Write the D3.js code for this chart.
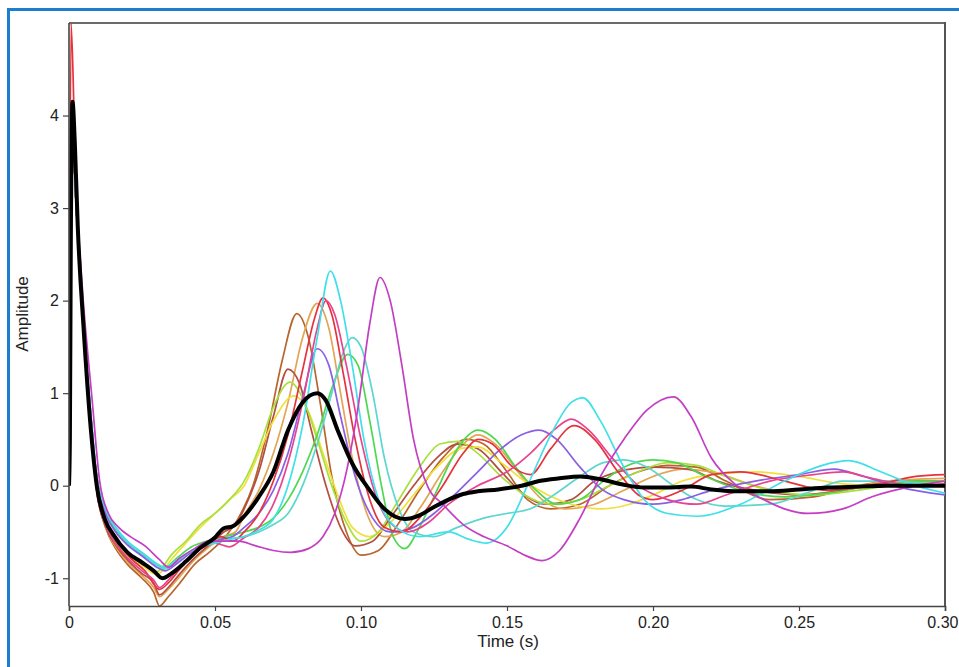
<!DOCTYPE html>
<html>
<head>
<meta charset="utf-8">
<script src="https://cdn.jsdelivr.net/npm/d3@7/dist/d3.min.js"></script>
<style>
  html, body { margin: 0; padding: 0; background: #fff; }
  svg { display: block; }
  text { font-family: "Liberation Sans", Arial, Helvetica, sans-serif; fill: #222; }
</style>
</head>
<body>
<svg id="chart" width="959" height="667"></svg>
<script>
// ---- tick labels / axis ----
const xTicks = [0, 0.05, 0.10, 0.15, 0.20, 0.25, 0.30];
const xTickLabels = ["0", "0.05", "0.10", "0.15", "0.20", "0.25", "0.30"];
const yTicks = [-1, 0, 1, 2, 3, 4];
const yTickLabels = ["-1", "0", "1", "2", "3", "4"];
const xTitle = "Time (s)";
const yTitle = "Amplitude";

// ---- series: [time (s), amplitude] ----
const brown = [[0,0],[0.001,3.9],[0.0025,3.0],[0.0045,1.9],[0.007,0.85],[0.0095,-0.05],[0.0125,-0.45],[0.016,-0.68],[0.02,-0.85],[0.025,-1.0],[0.029,-1.15],[0.031,-1.3],[0.034,-1.2],[0.038,-1.05],[0.043,-0.85],[0.048,-0.72],[0.053,-0.57],[0.058,-0.35],[0.063,0.0],[0.068,0.6],[0.073,1.35],[0.078,1.86],[0.082,1.6],[0.086,0.9],[0.09,0.1],[0.095,-0.5],[0.1,-0.75],[0.106,-0.7],[0.113,-0.4],[0.12,-0.05],[0.128,0.3],[0.136,0.5],[0.142,0.45],[0.15,0.15],[0.157,-0.15],[0.165,-0.25],[0.175,-0.2],[0.185,0.0],[0.195,0.15],[0.205,0.22],[0.215,0.2],[0.225,0.05],[0.24,-0.15],[0.255,-0.12],[0.27,0.0],[0.285,0.05],[0.3,0.05]];
const orange = [[0,0],[0.001,3.9],[0.0025,3.0],[0.0045,1.9],[0.007,0.85],[0.0095,-0.05],[0.0125,-0.45],[0.016,-0.66],[0.02,-0.82],[0.025,-0.97],[0.029,-1.1],[0.031,-1.2],[0.034,-1.12],[0.038,-0.98],[0.043,-0.8],[0.048,-0.66],[0.053,-0.55],[0.057,-0.5],[0.06,-0.32],[0.065,-0.05],[0.07,0.35],[0.075,0.9],[0.08,1.6],[0.085,1.97],[0.089,1.7],[0.093,1.0],[0.097,0.3],[0.102,-0.3],[0.108,-0.55],[0.114,-0.5],[0.12,-0.25],[0.128,0.15],[0.135,0.45],[0.14,0.55],[0.146,0.45],[0.155,0.1],[0.162,-0.15],[0.17,-0.25],[0.18,-0.2],[0.19,-0.05],[0.2,0.1],[0.21,0.18],[0.22,0.15],[0.235,0.0],[0.25,-0.1],[0.265,-0.05],[0.28,0.05],[0.3,0.08]];
const red = [[0,0],[0.0007,5.0],[0.002,3.7],[0.0035,2.5],[0.0055,1.5],[0.008,0.5],[0.0105,-0.1],[0.0135,-0.45],[0.017,-0.62],[0.021,-0.78],[0.026,-0.92],[0.031,-1.12],[0.034,-1.05],[0.038,-0.9],[0.043,-0.72],[0.048,-0.62],[0.052,-0.55],[0.056,-0.6],[0.06,-0.5],[0.065,-0.3],[0.07,0.05],[0.075,0.55],[0.08,1.25],[0.084,1.8],[0.087,2.03],[0.09,1.85],[0.094,1.2],[0.098,0.5],[0.103,-0.15],[0.108,-0.45],[0.114,-0.5],[0.12,-0.35],[0.128,0.0],[0.135,0.35],[0.14,0.5],[0.145,0.45],[0.152,0.2],[0.158,0.12],[0.165,0.4],[0.173,0.65],[0.18,0.5],[0.188,0.15],[0.195,-0.1],[0.2,-0.15],[0.21,-0.05],[0.22,0.12],[0.23,0.15],[0.245,0.05],[0.26,-0.05],[0.275,0.0],[0.29,0.1],[0.3,0.12]];
const pink = [[0,0],[0.001,3.9],[0.0025,3.0],[0.0045,1.9],[0.007,0.85],[0.0095,-0.05],[0.0125,-0.42],[0.016,-0.62],[0.02,-0.78],[0.025,-0.92],[0.029,-1.02],[0.031,-1.1],[0.034,-1.02],[0.038,-0.88],[0.043,-0.72],[0.047,-0.65],[0.05,-0.62],[0.055,-0.66],[0.06,-0.56],[0.065,-0.45],[0.07,-0.2],[0.075,0.25],[0.08,0.9],[0.085,1.7],[0.088,2.0],[0.091,1.85],[0.095,1.3],[0.1,0.5],[0.105,-0.1],[0.11,-0.4],[0.116,-0.5],[0.123,-0.4],[0.13,-0.2],[0.14,0.0],[0.15,0.15],[0.158,0.35],[0.166,0.6],[0.172,0.72],[0.178,0.6],[0.186,0.3],[0.195,0.0],[0.205,-0.15],[0.215,-0.2],[0.225,-0.1],[0.24,0.05],[0.255,0.12],[0.265,0.15],[0.275,0.08],[0.29,0.0],[0.3,0.02]];
const cyan = [[0,0],[0.001,3.9],[0.0025,3.0],[0.0045,1.95],[0.007,0.95],[0.0095,0.1],[0.0125,-0.25],[0.016,-0.45],[0.02,-0.6],[0.025,-0.72],[0.03,-0.84],[0.033,-0.88],[0.037,-0.8],[0.04,-0.74],[0.045,-0.66],[0.05,-0.62],[0.055,-0.58],[0.06,-0.55],[0.065,-0.48],[0.07,-0.36],[0.075,0.0],[0.08,0.65],[0.085,1.6],[0.0895,2.32],[0.093,2.0],[0.097,1.3],[0.101,0.5],[0.106,-0.15],[0.112,-0.45],[0.12,-0.55],[0.13,-0.5],[0.137,-0.58],[0.143,-0.62],[0.15,-0.45],[0.157,0.0],[0.165,0.55],[0.172,0.9],[0.176,0.95],[0.182,0.7],[0.19,0.2],[0.197,-0.15],[0.205,-0.3],[0.215,-0.33],[0.23,-0.2],[0.245,0.05],[0.258,0.22],[0.267,0.27],[0.278,0.15],[0.29,0.0],[0.3,-0.08]];
const magenta = [[0,0],[0.001,3.8],[0.0025,3.05],[0.005,1.95],[0.008,0.9],[0.0105,0.05],[0.0135,-0.3],[0.017,-0.45],[0.021,-0.55],[0.026,-0.65],[0.031,-0.8],[0.034,-0.88],[0.038,-0.78],[0.043,-0.68],[0.048,-0.6],[0.053,-0.6],[0.058,-0.6],[0.064,-0.65],[0.07,-0.7],[0.076,-0.72],[0.082,-0.68],[0.087,-0.55],[0.091,-0.3],[0.095,0.15],[0.099,0.85],[0.103,1.75],[0.1065,2.25],[0.11,2.0],[0.114,1.3],[0.118,0.5],[0.123,-0.02],[0.128,-0.2],[0.135,-0.42],[0.142,-0.55],[0.15,-0.65],[0.156,-0.75],[0.162,-0.81],[0.168,-0.7],[0.175,-0.35],[0.182,0.1],[0.19,0.5],[0.198,0.82],[0.207,0.96],[0.213,0.75],[0.22,0.3],[0.228,0.02],[0.236,-0.12],[0.245,-0.25],[0.253,-0.3],[0.265,-0.25],[0.275,-0.12],[0.29,0.0],[0.3,0.05]];
const violet = [[0,0],[0.001,3.9],[0.0025,3.0],[0.0045,1.95],[0.007,0.95],[0.0095,0.08],[0.0125,-0.3],[0.016,-0.5],[0.02,-0.64],[0.025,-0.76],[0.03,-0.88],[0.033,-0.92],[0.037,-0.84],[0.042,-0.72],[0.047,-0.64],[0.052,-0.58],[0.056,-0.55],[0.06,-0.45],[0.065,-0.3],[0.07,-0.05],[0.075,0.35],[0.08,0.95],[0.085,1.48],[0.089,1.3],[0.093,0.75],[0.098,0.1],[0.104,-0.35],[0.11,-0.5],[0.118,-0.45],[0.125,-0.3],[0.132,-0.1],[0.14,0.15],[0.148,0.4],[0.155,0.55],[0.161,0.6],[0.167,0.5],[0.175,0.2],[0.183,-0.05],[0.19,-0.15],[0.2,-0.2],[0.21,-0.15],[0.22,-0.05],[0.235,0.05],[0.25,0.12],[0.262,0.18],[0.272,0.1],[0.285,-0.02],[0.3,-0.1]];
const darkRed = [[0,0],[0.001,3.9],[0.0025,3.0],[0.0045,1.9],[0.007,0.85],[0.0095,-0.05],[0.0125,-0.44],[0.016,-0.64],[0.02,-0.8],[0.025,-0.95],[0.029,-1.05],[0.031,-1.18],[0.034,-1.1],[0.038,-0.95],[0.043,-0.78],[0.048,-0.64],[0.053,-0.5],[0.057,-0.42],[0.06,-0.25],[0.065,0.15],[0.07,0.75],[0.075,1.26],[0.079,1.1],[0.083,0.6],[0.088,0.0],[0.093,-0.45],[0.098,-0.65],[0.104,-0.6],[0.11,-0.35],[0.118,0.0],[0.126,0.3],[0.133,0.45],[0.14,0.4],[0.148,0.15],[0.156,-0.1],[0.163,-0.2],[0.172,-0.15],[0.18,0.05],[0.188,0.15],[0.2,0.2],[0.212,0.18],[0.222,0.05],[0.235,-0.05],[0.25,-0.1],[0.265,-0.05],[0.28,0.03],[0.3,0.05]];
const lime = [[0,0],[0.001,4.0],[0.0025,3.0],[0.0045,1.85],[0.007,0.8],[0.0095,0.0],[0.0125,-0.4],[0.016,-0.6],[0.02,-0.74],[0.025,-0.84],[0.03,-0.93],[0.032,-0.88],[0.035,-0.75],[0.04,-0.6],[0.045,-0.42],[0.05,-0.3],[0.055,-0.15],[0.06,0.05],[0.065,0.4],[0.07,0.85],[0.0757,1.12],[0.08,0.95],[0.085,0.5],[0.09,0.0],[0.095,-0.4],[0.1,-0.6],[0.106,-0.5],[0.112,-0.2],[0.12,0.2],[0.127,0.45],[0.133,0.48],[0.14,0.35],[0.148,0.1],[0.156,-0.1],[0.165,-0.2],[0.175,-0.15],[0.185,0.0],[0.195,0.15],[0.205,0.25],[0.215,0.22],[0.225,0.1],[0.24,-0.05],[0.255,-0.1],[0.27,-0.05],[0.285,0.02],[0.3,0.05]];
const yellow = [[0,0],[0.001,4.0],[0.0025,3.0],[0.0045,1.85],[0.007,0.8],[0.0095,0.0],[0.0125,-0.4],[0.016,-0.62],[0.02,-0.76],[0.025,-0.86],[0.03,-0.96],[0.032,-0.92],[0.035,-0.8],[0.04,-0.62],[0.045,-0.45],[0.05,-0.3],[0.055,-0.15],[0.06,0.0],[0.065,0.35],[0.07,0.7],[0.077,0.97],[0.082,0.8],[0.087,0.35],[0.092,-0.1],[0.097,-0.45],[0.103,-0.55],[0.11,-0.4],[0.118,-0.1],[0.126,0.2],[0.134,0.4],[0.14,0.42],[0.148,0.25],[0.156,0.05],[0.164,-0.1],[0.172,-0.2],[0.182,-0.25],[0.192,-0.2],[0.2,-0.1],[0.21,0.05],[0.22,0.12],[0.235,0.15],[0.25,0.1],[0.265,0.02],[0.28,0.0],[0.3,0.02]];
const teal = [[0,0],[0.001,3.9],[0.0025,3.0],[0.0045,1.95],[0.007,0.95],[0.0095,0.1],[0.0125,-0.26],[0.016,-0.46],[0.02,-0.62],[0.025,-0.74],[0.03,-0.86],[0.033,-0.9],[0.037,-0.82],[0.042,-0.7],[0.047,-0.64],[0.052,-0.6],[0.056,-0.57],[0.06,-0.55],[0.065,-0.5],[0.07,-0.42],[0.075,-0.3],[0.08,0.0],[0.085,0.45],[0.09,1.0],[0.094,1.45],[0.097,1.6],[0.1,1.5],[0.104,1.0],[0.108,0.3],[0.113,-0.25],[0.118,-0.5],[0.125,-0.55],[0.133,-0.45],[0.142,-0.35],[0.15,-0.3],[0.158,-0.25],[0.166,-0.1],[0.175,0.1],[0.183,0.25],[0.19,0.28],[0.198,0.2],[0.207,0.0],[0.215,-0.15],[0.225,-0.22],[0.24,-0.2],[0.255,-0.05],[0.265,0.05],[0.28,0.05],[0.3,0.0]];
const green = [[0,0],[0.001,3.9],[0.0025,3.0],[0.0045,1.95],[0.007,0.92],[0.0095,0.08],[0.0125,-0.28],[0.016,-0.48],[0.02,-0.62],[0.025,-0.74],[0.03,-0.86],[0.033,-0.88],[0.037,-0.78],[0.042,-0.66],[0.047,-0.6],[0.052,-0.56],[0.056,-0.53],[0.06,-0.5],[0.065,-0.45],[0.07,-0.35],[0.075,-0.15],[0.08,0.15],[0.085,0.55],[0.09,1.05],[0.0955,1.42],[0.099,1.3],[0.103,0.7],[0.107,0.0],[0.111,-0.55],[0.115,-0.68],[0.12,-0.45],[0.126,-0.05],[0.133,0.4],[0.14,0.6],[0.146,0.5],[0.153,0.2],[0.16,-0.05],[0.167,-0.2],[0.175,-0.15],[0.183,0.05],[0.19,0.2],[0.2,0.28],[0.208,0.25],[0.218,0.1],[0.23,-0.05],[0.245,-0.12],[0.26,-0.08],[0.275,0.0],[0.29,0.05],[0.3,0.05]];
const mean = [[0,0],[0.0003,0.5],[0.0006,2.5],[0.0012,4.15],[0.002,3.7],[0.003,2.8],[0.005,1.7],[0.0075,0.6],[0.0095,0.0],[0.0125,-0.38],[0.015,-0.52],[0.02,-0.72],[0.025,-0.83],[0.029,-0.92],[0.032,-1.0],[0.035,-0.95],[0.04,-0.82],[0.045,-0.67],[0.05,-0.56],[0.053,-0.46],[0.056,-0.44],[0.06,-0.33],[0.065,-0.12],[0.07,0.15],[0.075,0.6],[0.08,0.9],[0.085,1.0],[0.088,0.92],[0.092,0.6],[0.097,0.24],[0.103,-0.05],[0.108,-0.25],[0.115,-0.36],[0.12,-0.32],[0.125,-0.23],[0.13,-0.15],[0.135,-0.09],[0.14,-0.06],[0.147,-0.04],[0.155,0.0],[0.161,0.05],[0.168,0.08],[0.175,0.1],[0.182,0.07],[0.19,0.01],[0.197,-0.02],[0.205,-0.02],[0.213,-0.01],[0.22,-0.04],[0.23,-0.06],[0.24,-0.06],[0.25,-0.04],[0.26,-0.02],[0.27,-0.01],[0.28,0.0],[0.3,0.0]];

const seriesNames = ["brown", "orange", "darkRed", "yellow", "lime", "green", "teal", "violet", "red", "pink", "cyan", "magenta"];
const seriesData  = [brown, orange, darkRed, yellow, lime, green, teal, violet, red, pink, cyan, magenta];
const seriesColors = ["#b8652c", "#e3a453", "#b44e3e", "#f0e03a", "#a8e03c", "#4fd84f", "#5cd6cf", "#8a5fe4", "#e5323c", "#e8448e", "#3fe0e8", "#c43ec4"];

// ---- drawing ----
const svg = d3.select("#chart");
const W = 959, H = 667;
const plot = { left: 69, top: 23, right: 945, bottom: 606 };

// blue outer border
svg.append("rect").attr("x", 8.5).attr("y", 9.5).attr("width", W + 20).attr("height", H + 20)
  .attr("fill", "#fff").attr("stroke", "#1b7fd1").attr("stroke-width", 3);

const x = d3.scaleLinear().domain([0, 0.3]).range([plot.left, plot.right]);
const y = d3.scaleLinear().domain([-1.3, 5]).range([plot.bottom, plot.top]);

svg.append("defs").append("clipPath").attr("id", "clip")
  .append("rect").attr("x", plot.left).attr("y", plot.top)
  .attr("width", plot.right - plot.left).attr("height", plot.bottom - plot.top);

// frame top/right
svg.append("line").attr("x1", plot.left).attr("x2", plot.right).attr("y1", plot.top).attr("y2", plot.top)
  .attr("stroke", "#6a6a6a").attr("stroke-width", 2);
svg.append("line").attr("x1", plot.right).attr("x2", plot.right).attr("y1", plot.top - 1).attr("y2", plot.bottom)
  .attr("stroke", "#555").attr("stroke-width", 2);

const line = d3.line().x(d => x(d[0])).y(d => y(d[1])).curve(d3.curveMonotoneX);

const g = svg.append("g").attr("clip-path", "url(#clip)");
g.selectAll("path.series").data(seriesData).join("path")
  .attr("class", "series")
  .attr("d", d => line(d))
  .attr("fill", "none")
  .attr("stroke", (d, i) => seriesColors[i])
  .attr("stroke-width", 1.7)
  .attr("stroke-linejoin", "round");

g.append("path").attr("d", line(mean)).attr("fill", "none")
  .attr("stroke", "#000").attr("stroke-width", 4).attr("stroke-linejoin", "round");

// axes
const xAxis = d3.axisBottom(x).tickValues(xTicks).tickFormat((d, i) => xTickLabels[i]).tickSizeOuter(0).tickSize(5).tickPadding(6);
const yAxis = d3.axisLeft(y).tickValues(yTicks).tickFormat((d, i) => yTickLabels[i]).tickSizeOuter(0).tickSize(6).tickPadding(4);

const gx = svg.append("g").attr("transform", `translate(0,${plot.bottom})`).call(xAxis);
const gy = svg.append("g").attr("transform", `translate(${plot.left},0)`).call(yAxis);
[gx, gy].forEach(a => {
  a.select(".domain").attr("stroke", "#444").attr("stroke-width", 1.6);
  a.selectAll(".tick line").attr("stroke", "#444").attr("stroke-width", 1.2);
  a.selectAll(".tick text").attr("font-size", 16).attr("fill", "#2a2a2a")
    .attr("font-family", "'Liberation Sans', Arial, sans-serif");
});
gy.select(".domain").attr("d", `M0,${plot.bottom}V${plot.top}`);
// keep the last x label inside the picture
gx.selectAll(".tick text").filter((d, i) => i === xTicks.length - 1)
  .attr("text-anchor", "end").attr("x", W - plot.right - 1);

svg.append("text").attr("x", 508).attr("y", 647).attr("text-anchor", "middle")
  .attr("font-size", 17).text(xTitle);
svg.append("text").attr("transform", "translate(28,314) rotate(-90)").attr("text-anchor", "middle")
  .attr("font-size", 17).text(yTitle);
</script>
</body>
</html>
